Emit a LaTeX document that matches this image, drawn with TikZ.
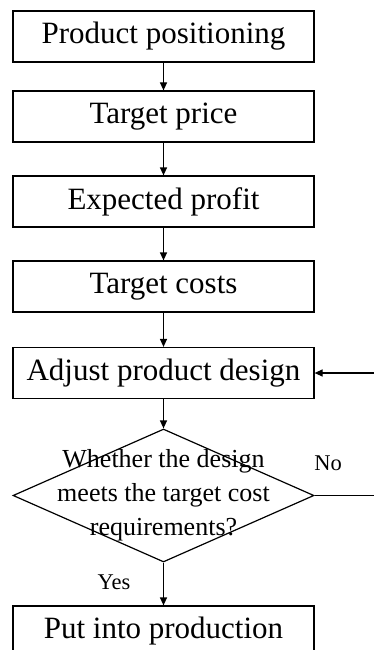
\documentclass[tikz,border=0pt]{standalone}
\usepackage{fontspec}
\setmainfont{Liberation Serif}
\usetikzlibrary{shapes.geometric,arrows.meta}

\begin{document}
\begin{tikzpicture}[x=1pt, y=-1pt, line width=1.2pt,
    >={Triangle[length=8pt,width=7pt]},
    stepbox/.style={rectangle, draw, inner sep=0pt, minimum width=301pt, minimum height=51pt, font=\fontsize{31}{37}\selectfont},
    decision/.style={diamond, draw, inner sep=0pt, minimum width=301pt, minimum height=133pt},
    branch/.style={font=\fontsize{22.5}{27}\selectfont}]
  \useasboundingbox (0,0) rectangle (374,650);
  % Nodes
  \node (positioning) [stepbox] at (163.5, 36.5) {Product positioning};
  \node (price) [stepbox] at (163.5, 116.5) {Target price};
  \node (profit) [stepbox] at (163.5, 201.5) {Expected profit};
  \node (costs) [stepbox] at (163.5, 286.5) {Target costs};
  \node (adjust) [stepbox] at (163.5, 373) {Adjust product design};
  \node (check) [decision, label={[align=center, font=\fontsize{26}{34}\selectfont]center:Whether the design\\meets the target cost\\requirements?}] at (163.5, 495.5) {};
  \node (production) [stepbox] at (163.5, 631.5) {Put into production};
  \node (no) [branch] at (328, 463) {No};
  \node (yes) [branch] at (114, 582) {Yes};
  \coordinate (loop) at (380, 495.5);
  % Arrow
  \draw[->] (positioning) -- (price);
  \draw[->] (price) -- (profit);
  \draw[->] (profit) -- (costs);
  \draw[->] (costs) -- (adjust);
  \draw[->] (adjust) -- (check);
  \draw[->] (check) -- (production);
  \draw[->] (check.east) -- (loop) |- (adjust.east);
\end{tikzpicture}
\end{document}
